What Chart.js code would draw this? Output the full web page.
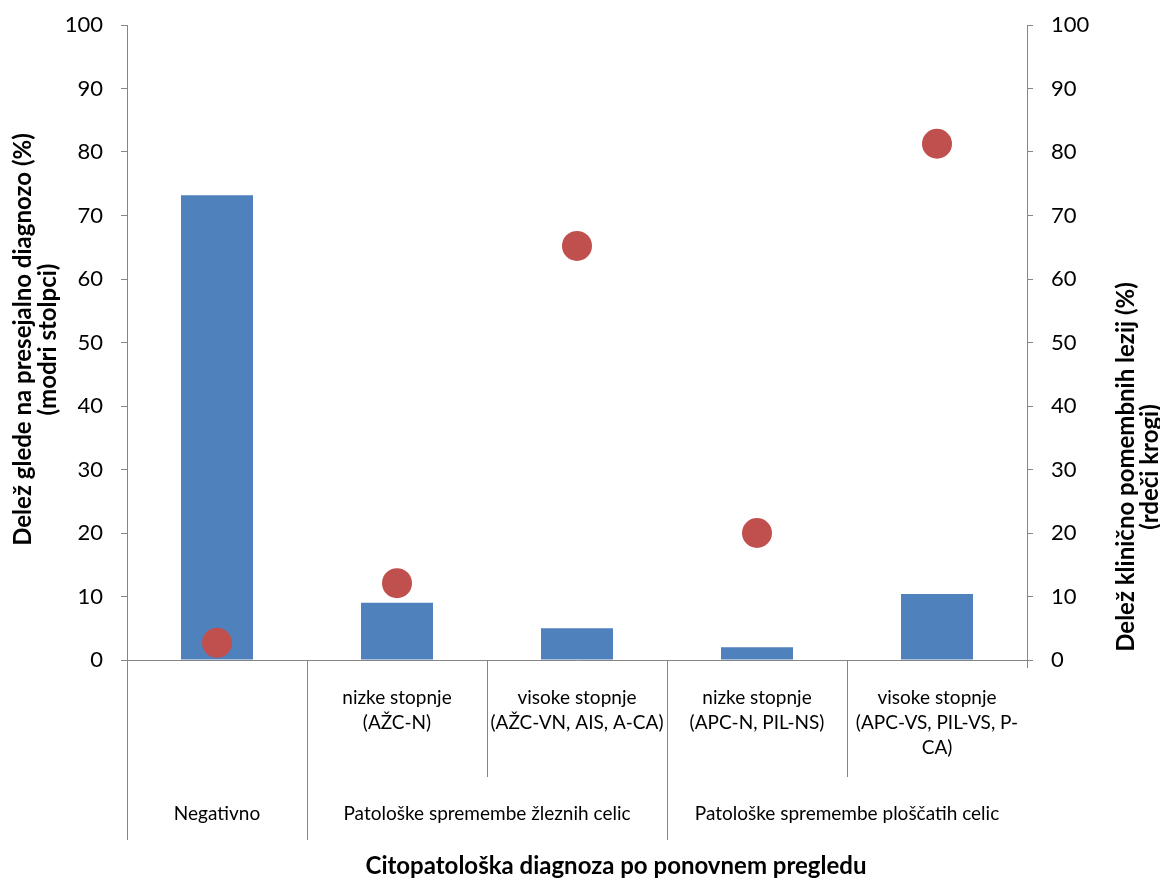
<!DOCTYPE html>
<html>
<head>
<meta charset="utf-8">
<script src="https://cdn.jsdelivr.net/npm/chart.js@4"></script>
<style>
  html, body { margin: 0; padding: 0; background: #fff; }
</style>
</head>
<body>
<canvas id="myCanvas" width="1160" height="881"></canvas>
<script>
// data
const categories = ['Negativno', 'nizke stopnje (AŽC-N)', 'visoke stopnje (AŽC-VN, AIS, A-CA)',
  'nizke stopnje (APC-N, PIL-NS)', 'visoke stopnje (APC-VS, PIL-VS, P-CA)'];
const subLabels = [
  [],
  ['nizke stopnje', '(AŽC-N)'],
  ['visoke stopnje', '(AŽC-VN, AIS, A-CA)'],
  ['nizke stopnje', '(APC-N, PIL-NS)'],
  ['visoke stopnje', '(APC-VS, PIL-VS, P-', 'CA)']
];
const groupLabels = ['Negativno', 'Patološke spremembe žleznih celic', 'Patološke spremembe ploščatih celic'];
const groupSizes = [1, 2, 2];
const barValues = [73.2, 9.0, 5.0, 2.0, 10.4];     // modri stolpci, left axis
const circleValues = [2.7, 12.1, 65.2, 20.0, 81.3]; // rdeči krogi, right axis
const yTicks = [0, 10, 20, 30, 40, 50, 60, 70, 80, 90, 100];

const xTitle = 'Citopatološka diagnoza po ponovnem pregledu';
const leftTitle = ['Delež glede na presejalno diagnozo (%)', '(modri stolpci)'];
const rightTitle = ['Delež klinično pomembnih lezij (%)', '(rdeči krogi)'];

const axisGray = '#868686';
const fontName = 'Lato';

// multi level category axis + rotated titles
const multiAxis = {
  id: 'multiAxis',
  afterDraw(chart) {
    const ctx = chart.ctx;
    const xs = chart.scales.x;
    const area = chart.chartArea;
    const base = area.bottom;
    const midY = (area.top + area.bottom) / 2;
    const step = xs.getPixelForValue(1) - xs.getPixelForValue(0);

    let starts = new Set();
    let acc = 0;
    groupSizes.forEach((n)=>{ starts.add(acc); acc += n; });

    ctx.save();
    ctx.strokeStyle = axisGray;
    ctx.lineWidth = 1;
    for (let i = 0; i <= categories.length; i++) {
      let x = Math.round(xs.getPixelForValue(i) - step / 2) + 0.5;
      let end = base + 8;
      if (i < categories.length) end = starts.has(i) ? base + 180 : base + 117;
      ctx.beginPath();
      ctx.moveTo(x, base);
      ctx.lineTo(x, end);
      ctx.stroke();
    }

    ctx.fillStyle = '#000';
    ctx.textAlign = 'center';
    ctx.textBaseline = 'middle';
    ctx.font = `19px ${fontName}`;
    subLabels.forEach((lines, i)=>{
      let cx = xs.getPixelForValue(i);
      lines.forEach((t, j)=>{
        ctx.fillText(t, cx, base + 38 + j * 25);
      });
    });

    let s = 0;
    groupLabels.forEach((g, k)=>{
      let x1 = xs.getPixelForValue(s), x2 = xs.getPixelForValue(s + groupSizes[k] - 1);
      ctx.fillText(g, (x1 + x2) / 2, base + 154);
      s += groupSizes[k];
    });

    ctx.font = `bold 24px ${fontName}`;
    ctx.fillText(xTitle, 616, base + 206);

    // left title
    ctx.save();
    ctx.translate(23, midY - 3);
    ctx.rotate(-Math.PI / 2);
    leftTitle.forEach((t, j)=>{ ctx.fillText(t, 0, j * 25); });
    ctx.restore();

    // right title, reads bottom to top too
    ctx.save();
    ctx.translate(1126, 467);
    ctx.rotate(-Math.PI / 2);
    rightTitle.forEach((t, j)=>{ ctx.fillText(t, 0, j * 24); });
    ctx.restore();

    ctx.restore();
  }
};

const yAxis = (pos, width)=>({
  type: 'linear',
  position: pos,
  min: 0,
  max: 100,
  afterBuildTicks: (s)=>{ s.ticks = yTicks.map((v)=>({ value: v })); },
  afterFit: (s)=>{
    s.width = width;
    // keep only half a label above/below, not the tick padding
    s.paddingTop = 13;
    s.paddingBottom = 13;
  },
  ticks: { color: '#000', padding: 18, font: { size: 22, family: fontName } },
  grid: { drawOnChartArea: false, tickLength: 6, color: axisGray },
  border: { color: axisGray }
});

const ctx = document.querySelector('#myCanvas').getContext('2d');
const myChart = new Chart(ctx, {
  data: {
    labels: categories,
    datasets: [
      {
        type: 'line',
        data: circleValues,
        yAxisID: 'y2',
        showLine: false,
        pointRadius: 15,
        pointBorderWidth: 0,
        pointBackgroundColor: '#C0504D',
        pointBorderColor: '#C0504D',
        order: 0
      },
      {
        type: 'bar',
        data: barValues,
        yAxisID: 'y',
        backgroundColor: '#4F81BD',
        barPercentage: 0.4,
        categoryPercentage: 1.0,
        order: 1
      }
    ]
  },
  options: {
    responsive: false,
    animation: false,
    layout: { padding: { top: 25 } },
    plugins: { legend: { display: false }, tooltip: { enabled: false } },
    scales: {
      x: {
        type: 'category',
        offset: true,
        afterFit: (s)=>{ s.height = 221; },
        ticks: { display: false },
        grid: { display: false },
        border: { color: axisGray }
      },
      y: yAxis('left', 127),
      y2: yAxis('right', 133)
    }
  },
  plugins: [multiAxis]
});
</script>
</body>
</html>
